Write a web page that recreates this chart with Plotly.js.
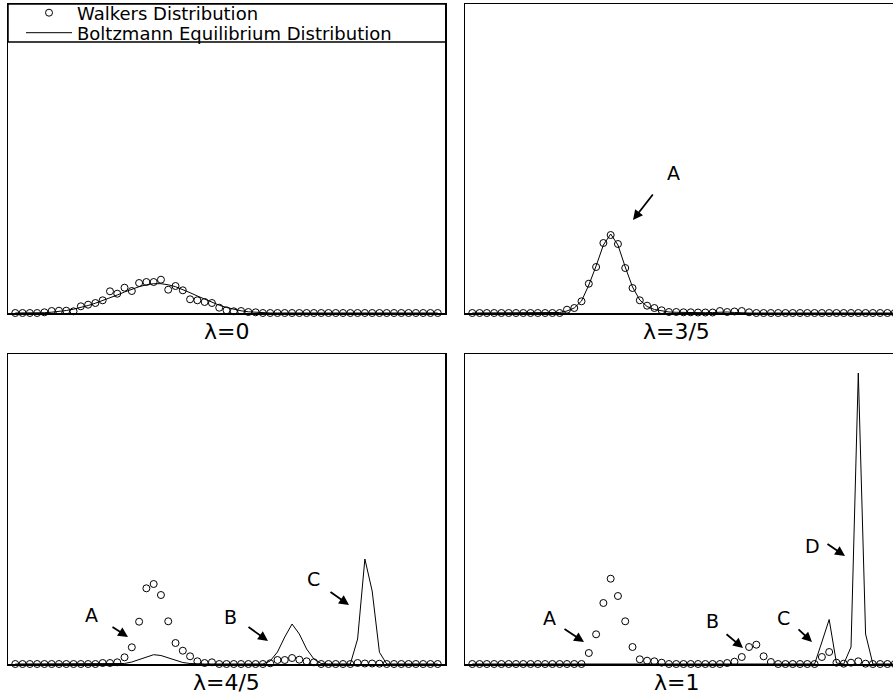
<!DOCTYPE html>
<html><head><meta charset="utf-8">
<script src="https://cdn.plot.ly/plotly-3.0.1.min.js"></script>
<style>html,body{margin:0;padding:0;overflow:hidden;background:#fff;width:893px;height:694px}</style>
</head><body><div id="chart" style="width:903px;height:694px"></div>
<script>
// state index (bins)
const bins = [0,1,2,3,4,5,6,7,8,9,10,11,12,13,14,15,16,17,18,19,20,21,22,23,24,25,26,27,28,29,30,31,32,33,34,35,36,37,38,39,40,41,42,43,44,45,46,47,48,49,50,51,52,53,54,55,56,57,58];

// lambda = 0
const walkersL0 = [0,0,0,0,0.7,2,2.3,2.3,1.7,6.7,8.3,10,12.7,21.7,19.3,25.3,22,30,31,31,33.3,23.3,27,22.7,13.7,12.7,11,10,5.3,2.7,1.7,2,1,0.7,0,0,0,0,0,0,0,0,0,0,0,0,0,0,0,0,0,0,0,0,0,0,0,0,0];
const boltzL0 = [0,0,0,0,0.3,0.8,1.5,2.5,3.8,5.5,7.5,9.8,12.3,15,18,21,23.8,26.3,28.2,29.3,29.3,28.2,26.3,23.5,20.3,17,13.7,10.6,7.8,5.5,3.6,2.2,1.2,0.6,0.2,0,0,0,0,0,0,0,0,0,0,0,0,0,0,0,0,0,0,0,0,0,0,0,0];
// lambda = 3/5
const walkersL35 = [0,0,0,0,0,0,0,0,0,0,0,0,0,3.3,5,11.7,29.3,46,70,78,69,45,25,12.7,7.3,5,2.7,1,1,0.7,0.7,0.5,0.5,0.5,2,1,1.5,2,0.7,0,0,0,0,0,0,0,0,0,0,0,0,0,0,0,0,0,0,0,0];
const boltzL35 = [0,0,0,0,0,0,0,0,0,0,0,0,0.5,2,5,12,28,47,68,79,68,46,26,13,6.5,3.5,2,1,0.7,0.5,0.3,0.3,0.3,0.5,1,1,0.5,0,0,0,0,0,0,0,0,0,0,0,0,0,0,0,0,0,0,0,0,0,0];
// lambda = 4/5
const walkersL45 = [0,0,0,0,0,0,0,0,0,0,0,0,1,1,1.7,6.7,16.7,42.3,75.7,80,69,42.7,21,13.3,7.7,2.7,1,1.7,0,0,0,0,0,0,0,0.7,4,4,6,4.3,2.7,1.7,0,0,0,0,0,1,0.5,0.5,0.3,0,0,0,0,0,0,0,0];
const boltzL45 = [0,0,0,0,0,0,0,0,0,0,0,0,0,0,0,0.5,2,4.5,7.5,9.3,8.5,6,3.5,1.5,0.5,0,0,0,0,0,0,0,0,0,0,3,12,27,40,30,15,5,0.5,0,0,0,0,25,105,73,11.7,0,0,0,0,0,0,0,0];
// lambda = 1
const walkersL1 = [0,0,0,0,0,0,0,0,0,0,0,0,0,0,0,0,11,29.7,61,85.3,68,42.7,17,4.7,3.3,2.7,1.3,0,0,0,0,0,0,0,0,1,2.3,7,17,19.3,7.7,2,0,0,0,0,0,0,7,12,1.3,0.3,1.3,2.7,0.3,0,0,0,0];
const boltzL1 = [0,0,0,0,0,0,0,0,0,0,0,0,0,0,0,0,0,0,0,0,0,0,0,0,0,0,0,0,0,0,0,0,0,0,0,0,0,0,0,0,0,0,0,0,0,0,0,0,22,44.5,1,0,17,291,30,0,0,0,0];

const panelLabels = ['λ=0','λ=3/5','λ=4/5','λ=1'];
const seriesNames = ['Walkers Distribution','Boltzmann Equilibrium Distribution'];
const walkers = [walkersL0, walkersL35, walkersL45, walkersL1];
const boltz = [boltzL0, boltzL35, boltzL45, boltzL1];

const W = 903, H = 694;
const PX = x => x / W, PY = y => 1 - y / H;
const FONT = 'DejaVu Sans, Arial, sans-serif';

const data = [];
for (let p = 0; p < 4; p++) {
  const ax = p === 0 ? '' : String(p + 1);
  data.push({
    x: bins, y: boltz[p], xaxis: 'x' + ax, yaxis: 'y' + ax,
    type: 'scatter', mode: 'lines', name: seriesNames[1],
    line: {color: '#000', width: 1}, cliponaxis: false,
    showlegend: p === 0, legend: 'legend2', hoverinfo: 'skip'
  });
  data.push({
    x: bins, y: walkers[p], xaxis: 'x' + ax, yaxis: 'y' + ax,
    type: 'scatter', mode: 'markers', name: seriesNames[0],
    marker: {symbol: 'circle-open', size: 7, color: '#000', line: {width: 1, color: '#000'}},
    cliponaxis: false, showlegend: p === 0, legend: 'legend', hoverinfo: 'skip'
  });
}

const xL = [PX(8), PX(445)], xR = [PX(465), PX(902)];
const yT = [PY(313), PY(4)], yB = [PY(664), PY(354)];
function xa(dom, anchor) {
  return {domain: dom, anchor: anchor, range: [-1, 59], showticklabels: false, ticks: '', showgrid: false,
    zeroline: false, showline: true, mirror: true, linecolor: '#000', linewidth: 1.5, fixedrange: true};
}
function ya(dom, top, anchor) {
  return {domain: dom, anchor: anchor, range: [0, top], showticklabels: false, ticks: '', showgrid: false,
    zeroline: false, showline: true, mirror: true, linecolor: '#000', linewidth: 1.5, fixedrange: true};
}

const annotations = [];
const labelPos = [[226.5, 332], [676, 332], [226.5, 682], [676, 682]];
panelLabels.forEach((t, i) => annotations.push({
  xref: 'paper', yref: 'paper', x: PX(labelPos[i][0]), y: PY(labelPos[i][1]),
  xanchor: 'center', yanchor: 'middle', text: t, showarrow: false,
  font: {family: FONT, size: 22, color: '#000'}
}));
// letter labels and arrows: [letter, textX, textY, tailX, tailY, headX, headY]
const marks = [
  ['A', 673, 173, 654, 193, 633, 220],
  ['A', 91, 615, 111, 626, 128, 637],
  ['B', 230, 617, 247, 626, 268, 641],
  ['C', 313, 579, 329, 591, 349, 605],
  ['A', 549, 618, 563, 628, 584, 642],
  ['B', 712, 621, 725, 633, 743, 648],
  ['C', 783, 618, 797, 628, 812, 642],
  ['D', 812, 546, 826, 543, 845, 556]
];
marks.forEach(m => {
  annotations.push({xref: 'paper', yref: 'paper', x: PX(m[1]), y: PY(m[2]), xanchor: 'center', yanchor: 'middle',
    text: m[0], showarrow: false, font: {family: FONT, size: 19, color: '#000'}});
  annotations.push({xref: 'paper', yref: 'paper', x: PX(m[5]), y: PY(m[6]), text: '', showarrow: true,
    axref: 'pixel', ayref: 'pixel', ax: m[3] - m[5], ay: m[4] - m[6],
    arrowhead: 2, arrowsize: 1.1, arrowwidth: 1.8, arrowcolor: '#000', standoff: 0, startstandoff: 0});
});

const legendFont = {family: FONT, size: 18, color: '#000'};
const layout = {
  width: W, height: H, margin: {l: 0, r: 0, t: 0, b: 0, autoexpand: false},
  paper_bgcolor: '#fff', plot_bgcolor: '#fff',
  font: {family: FONT, color: '#000'},
  xaxis: xa(xL, 'y'), yaxis: ya(yT, 309, 'x'),
  xaxis2: xa(xR, 'y2'), yaxis2: ya(yT, 309, 'x2'),
  xaxis3: xa(xL, 'y3'), yaxis3: ya(yB, 310, 'x3'),
  xaxis4: xa(xR, 'y4'), yaxis4: ya(yB, 310, 'x4'),
  legend: {x: PX(21), y: PY(13), xanchor: 'left', yanchor: 'middle', bgcolor: 'rgba(0,0,0,0)',
    borderwidth: 0, font: legendFont, itemwidth: 46},
  legend2: {x: PX(21), y: PY(33), xanchor: 'left', yanchor: 'middle', bgcolor: 'rgba(0,0,0,0)',
    borderwidth: 0, font: legendFont, itemwidth: 46},
  shapes: [{type: 'rect', xref: 'paper', yref: 'paper', x0: PX(8), x1: PX(446), y0: PY(42), y1: PY(4),
    line: {color: '#000', width: 1.5}, fillcolor: 'rgba(0,0,0,0)', layer: 'above'}],
  annotations: annotations,
  showlegend: true
};

Plotly.newPlot('chart', data, layout, {displayModeBar: false, staticPlot: true});
</script></body></html>
